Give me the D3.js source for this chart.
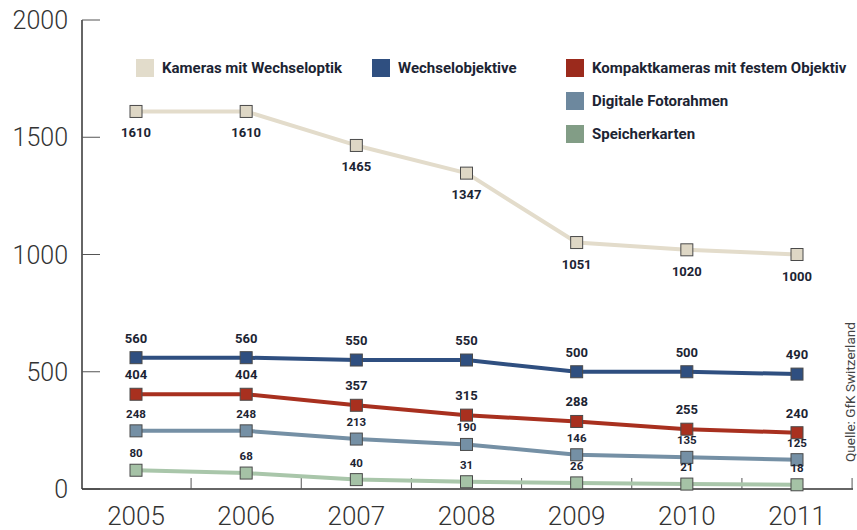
<!DOCTYPE html>
<html lang="en">
<head>
    <meta charset="UTF-8">
    <title>Kameras</title>
    <script src="https://d3js.org/d3.v7.min.js"></script>
    <style>
        body { margin: 0; background: #fff; overflow: hidden; }
        text { font-family: Roboto, "DejaVu Sans", sans-serif; }
    </style>
</head>
<body>
<script>
    var width = 857;
    var height = 530;

    var years = [2005, 2006, 2007, 2008, 2009, 2010, 2011];
    var yTicks = [0, 500, 1000, 1500, 2000];

    var names = ["Kameras mit Wechseloptik", "Wechselobjektive", "Kompaktkameras mit festem Objektiv",
        "Digitale Fotorahmen", "Speicherkarten"];
    var kameras = [1610, 1610, 1465, 1347, 1051, 1020, 1000];
    var objektive = [560, 560, 550, 550, 500, 500, 490];
    var kompakt = [404, 404, 357, 315, 288, 255, 240];
    var rahmen = [248, 248, 213, 190, 146, 135, 125];
    var karten = [80, 68, 40, 31, 26, 21, 18];

    var series = [
        {name: names[0], values: kameras, line: "#e3dccb", fill: "#e2dccb", mark: "#ded7c5", labelDy: 26, size: 13},
        {name: names[1], values: objektive, line: "#2f4f80", fill: "#2f4f80", mark: "#2f4f80", labelDy: -15, size: 13},
        {name: names[2], values: kompakt, line: "#a8301f", fill: "#9b2a1c", mark: "#a8301f", labelDy: -15, size: 13},
        {name: names[3], values: rahmen, line: "#7590a5", fill: "#6d889e", mark: "#7590a5", labelDy: -13, size: 11.5},
        {name: names[4], values: karten, line: "#a9c6aa", fill: "#829d86", mark: "#a5c2a6", labelDy: -13, size: 11.5}
    ];

    var svg = d3.select("body").append("svg")
        .attr("width", width)
        .attr("height", height);

    var x = d3.scalePoint()
        .domain(years)
        .range([136, 797]);

    var y = d3.scaleLinear()
        .domain([0, 2000])
        .range([489, 20]);

    // y axis
    svg.append("line")
        .attr("x1", 82).attr("x2", 82)
        .attr("y1", 20).attr("y2", 489)
        .attr("stroke", "#333").attr("stroke-width", 1.5);

    svg.selectAll(".ytick").data(yTicks).enter().append("line")
        .attr("x1", 82).attr("x2", 100)
        .attr("y1", d => y(d)).attr("y2", d => y(d))
        .attr("stroke", "#555").attr("stroke-width", 1);

    svg.selectAll(".ylab").data(yTicks).enter().append("text")
        .attr("x", 68)
        .attr("y", d => y(d))
        .attr("dy", "0.36em")
        .attr("text-anchor", "end")
        .attr("font-size", 25)
        .attr("font-weight", 300)
        .attr("fill", "#333")
        .text(d => d);

    // x axis
    svg.append("line")
        .attr("x1", 82).attr("x2", 853)
        .attr("y1", 489).attr("y2", 489)
        .attr("stroke", "#333").attr("stroke-width", 1.5);

    var step = x.step();
    svg.selectAll(".xtick").data(years).enter().append("line")
        .attr("x1", d => x(d) + step / 2).attr("x2", d => x(d) + step / 2)
        .attr("y1", 489).attr("y2", 478)
        .attr("stroke", "#555").attr("stroke-width", 1);

    svg.selectAll(".xlab").data(years).enter().append("text")
        .attr("x", d => x(d))
        .attr("y", 525)
        .attr("text-anchor", "middle")
        .attr("font-size", 26)
        .attr("font-weight", 300)
        .attr("fill", "#333")
        .text(d => d);

    var line = d3.line()
        .x((d, i) => x(years[i]))
        .y(d => y(d));

    series.forEach(function (s) {
        var g = svg.append("g");
        g.append("path")
            .attr("d", line(s.values))
            .attr("fill", "none")
            .attr("stroke", s.line)
            .attr("stroke-width", 4)
            .attr("stroke-linejoin", "round");

        g.selectAll("rect").data(s.values).enter().append("rect")
            .attr("x", (d, i) => x(years[i]) - 6)
            .attr("y", d => y(d) - 6)
            .attr("width", 12).attr("height", 12)
            .attr("fill", s.mark)
            .attr("stroke", "#4a4a4a")
            .attr("stroke-width", 1);

        g.selectAll("text").data(s.values).enter().append("text")
            .attr("x", (d, i) => x(years[i]))
            .attr("y", d => y(d) + s.labelDy)
            .attr("text-anchor", "middle")
            .attr("font-size", s.size)
            .attr("font-weight", 700)
            .attr("fill", "#1c2433")
            .text(d => d);
    });

    // legend
    var legendPos = [[136, 59], [372, 59], [566, 59], [566, 92], [566, 125]];
    series.forEach(function (s, i) {
        var p = legendPos[i];
        svg.append("rect")
            .attr("x", p[0]).attr("y", p[1])
            .attr("width", 18).attr("height", 18)
            .attr("fill", s.fill);
        svg.append("text")
            .attr("x", p[0] + 26)
            .attr("y", p[1] + 14)
            .attr("font-size", 15)
            .attr("font-weight", 700)
            .attr("fill", "#1c2433")
            .text(s.name);
    });

    // source
    svg.append("text")
        .attr("transform", "translate(855,462) rotate(-90)")
        .attr("font-size", 13.5)
        .attr("fill", "#444")
        .text("Quelle: GfK Switzerland");
</script>
</body>
</html>
